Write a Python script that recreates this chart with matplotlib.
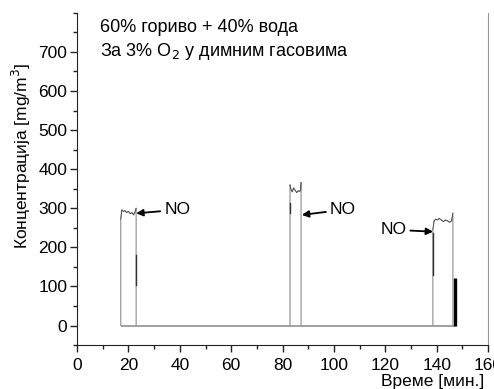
import matplotlib.pyplot as plt
from matplotlib.ticker import MultipleLocator

plt.rcParams['font.family'] = ['Liberation Sans', 'DejaVu Sans']

# NO traces, time in minutes, concentration in mg/m3
run1_t = [17.0, 17.0, 17.4, 18.0, 18.6, 19.3, 20.0, 20.7, 21.4, 22.0, 22.6, 23.0, 23.0]
run1_no = [0, 272, 296, 292, 294, 289, 292, 286, 289, 283, 291, 300, 0]
run2_t = [82.9, 82.9, 83.3, 83.8, 84.3, 84.9, 85.5, 86.1, 86.6, 87.0, 87.2, 87.2]
run2_no = [0, 360, 348, 342, 352, 346, 340, 345, 343, 346, 366, 0]
run3_t = [138.5, 138.5, 139.0, 139.6, 140.3, 141.0, 141.8, 142.6, 143.4, 144.2, 145.0, 145.8, 146.3, 146.3]
run3_no = [0, 245, 268, 272, 270, 274, 270, 266, 270, 268, 264, 268, 288, 0]

# darker pieces along the edges of each run
dark_t = [23.0, 82.9, 138.5]
dark_lo = [103, 288, 130]
dark_hi = [180, 314, 237]

# short final spike at the end of the measurement
end_t = 147.2
end_no = 122

base_t = [17.0, 147.2]

labels = ['NO', 'NO', 'NO']
label_xy = [(34.0, 296), (98.5, 296), (118.0, 245)]
arrow_tip = [(23.0, 287), (87.5, 283), (138.6, 240)]

fig = plt.figure(figsize=(4.94, 3.89), dpi=100)
ax = fig.add_axes([0.156, 0.113, 0.832, 0.854])

grey = '#9a9a9a'
ax.plot(base_t, [0, 0], color=grey, lw=1.3, solid_capstyle='butt')
for t, v in [(run1_t, run1_no), (run2_t, run2_no), (run3_t, run3_no)]:
    ax.plot(t, v, color=grey, lw=0.9)
    ax.plot(t[1:-1], v[1:-1], color='#444444', lw=0.5)
for t, lo, hi in zip(dark_t, dark_lo, dark_hi):
    ax.plot([t, t], [lo, hi], color='#333333', lw=1.0)
ax.plot([end_t, end_t], [0, end_no], color='black', lw=2.4, solid_capstyle='butt')

for txt, xy, tip in zip(labels, label_xy, arrow_tip):
    ax.annotate(txt, xy=tip, xytext=xy, fontsize=12.5, va='center', ha='left',
                arrowprops=dict(arrowstyle='-|>', color='black', lw=1.3,
                                mutation_scale=10, shrinkA=1, shrinkB=0))

ax.text(0.056, 0.98, '60% гориво + 40% вода\nЗа 3% O$_2$ у димним гасовима',
        transform=ax.transAxes, fontsize=13, va='top', ha='left', linespacing=1.3)

ax.set_xlim(0, 160)
ax.set_ylim(-50, 800)
ax.xaxis.set_major_locator(MultipleLocator(20))
ax.xaxis.set_minor_locator(MultipleLocator(10))
ax.yaxis.set_minor_locator(MultipleLocator(50))
ax.set_yticks(range(0, 800, 100))
ax.tick_params(which='major', length=5, width=1, labelsize=12.5, pad=2, colors='#222222')
ax.tick_params(which='minor', length=3, width=1, colors='#222222')
ax.tick_params(axis='x', labelcolor='black', pad=4)
ax.tick_params(axis='y', labelcolor='black')

ax.spines['top'].set_visible(False)
ax.spines['right'].set_color(grey)
ax.spines['left'].set_color('#222222')
ax.spines['bottom'].set_color('#222222')

ax.set_xlabel('Време [мин.]', fontsize=12.5)
ax.xaxis.set_label_coords(0.99, -0.088)
ax.xaxis.label.set_ha('right')
ax.set_ylabel('Концентрација [mg/m$^3$]', fontsize=12.5)
ax.yaxis.set_label_coords(-0.108, 0.57)

fig.savefig('out.png', dpi=100)
